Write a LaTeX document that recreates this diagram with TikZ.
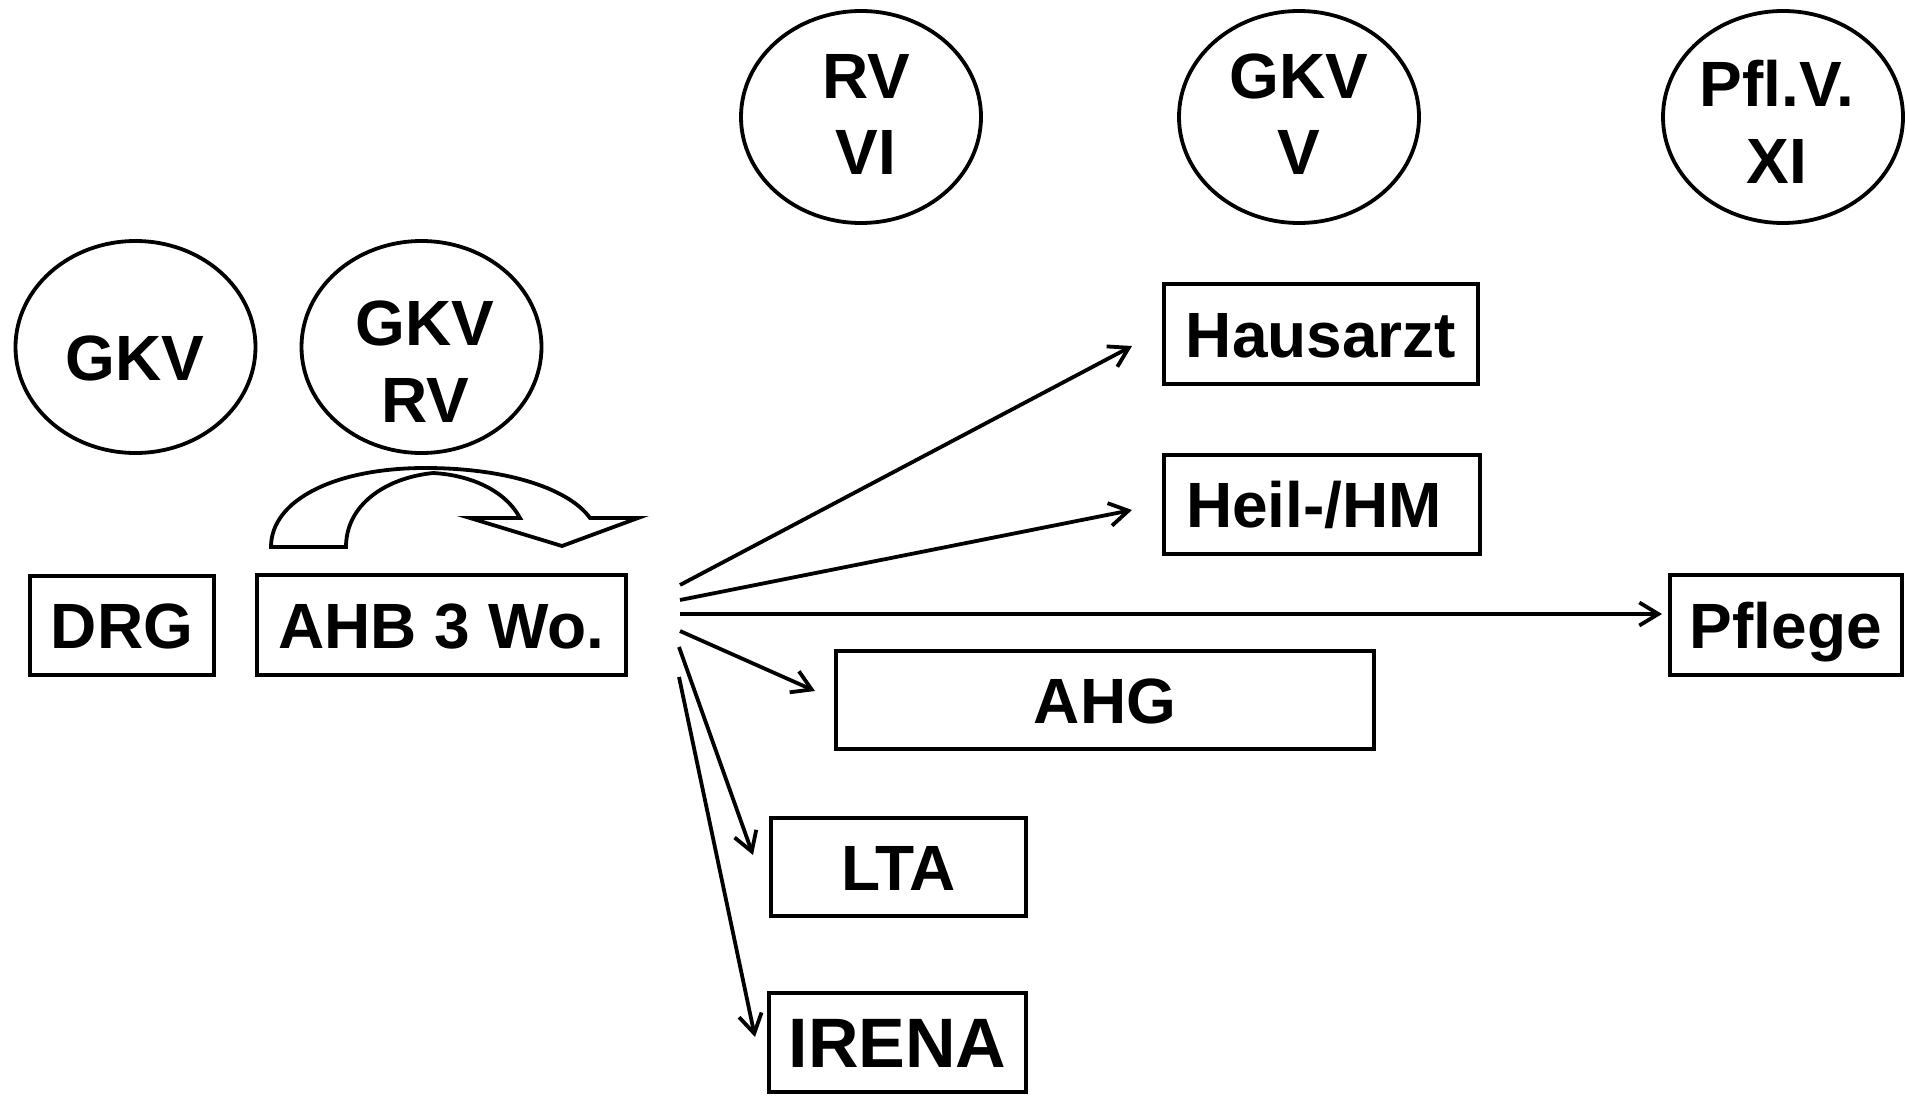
\documentclass[tikz,border=0pt]{standalone}
\usepackage{fontspec}
\setmainfont{Liberation Sans}
\usetikzlibrary{arrows.meta,shapes.geometric}
\begin{document}
\begin{tikzpicture}[x=0.5pt,y=-0.5pt,
  lw/.style={line width=1.9pt},
  bigfont/.style={font=\bfseries\fontsize{32}{38}\selectfont},
  box/.style={draw, lw, rectangle, inner sep=0pt, bigfont, text height=23pt, text depth=0pt},
  bub/.style={draw, lw, ellipse, inner sep=0pt, minimum width=120pt, minimum height=106pt},
  lbl/.style={anchor=base, inner sep=0pt, bigfont},
  arr/.style={lw, -{Straight Barb[length=9.5pt,width=11.5pt]}}
]
\useasboundingbox (0,0) rectangle (1906,1097);

% ellipses
\node[bub] (e1) at (135.5,347) {};
\node[bub] (e2) at (421.5,347) {};
\node[bub] (e3) at (861,117) {};
\node[bub] (e4) at (1299,117) {};
\node[bub] (e5) at (1783,117) {};

\node[lbl] (e1a) at (135,380) {GKV};
\node[lbl] (e2a) at (425,345) {GKV};
\node[lbl] (e2b) at (425,422) {RV};
\node[lbl] (e3a) at (866,99) {RV};
\node[lbl] (e3b) at (866,175) {VI};
\node[lbl] (e4a) at (1299,99) {GKV};
\node[lbl] (e4b) at (1299,175) {V};
\node[lbl] (e5a) at (1777,107) {Pfl.V.};
\node[lbl] (e5b) at (1777,184) {XI};

% boxes
\node[box, minimum width=92pt, minimum height=49.5pt] (drg) at (122,625.5) {DRG};
\node[box, minimum width=184.5pt, minimum height=50pt] (ahb) at (441.5,625) {AHB 3 Wo.};
\node[box, minimum width=157pt, minimum height=50pt] (haus) at (1321,334) {Hausarzt};
\node[box, minimum width=158pt, minimum height=49.5pt] (heil) at (1322,504.5) {\hspace*{-8pt}Heil-/HM};
\node[box, minimum width=116pt, minimum height=50pt] (pfl) at (1786,625) {Pflege};
\node[box, minimum width=269pt, minimum height=49pt] (ahg) at (1105,700) {AHG};
\node[box, minimum width=127.5pt, minimum height=49pt] (lta) at (898.5,867) {LTA};
\node[box, minimum width=128.5pt, minimum height=49.5pt, font=\bfseries\fontsize{35}{40}\selectfont, text height=25pt] (irena) at (897.5,1042.5) {IRENA};

% curved arrow
\draw[lw, fill=white] (271,547) .. controls (271,500) and (335,468) .. (425,468)
  .. controls (510,468) and (570,490) .. (590,518)
  -- (638,518) -- (562,546) -- (470,518) -- (520,518)
  .. controls (505,490) and (470,475) .. (433,473)
  .. controls (385,478) and (346,505) .. (346,547) -- cycle;

% arrow start and end points
\coordinate (s1) at (680,585);  \coordinate (t1) at (1132,346);
\coordinate (s2) at (680,600);  \coordinate (t2) at (1132,510);
\coordinate (s3) at (680,614);  \coordinate (t3) at (1662,614);
\coordinate (s4) at (680,631);  \coordinate (t4) at (815,691);
\coordinate (s5) at (679,647);  \coordinate (t5) at (753,855);
\coordinate (s6) at (679,677);  \coordinate (t6) at (755,1037);

\draw[arr] (s1) -- (t1);
\draw[arr] (s2) -- (t2);
\draw[arr] (s3) -- (t3);
\draw[arr] (s4) -- (t4);
\draw[arr] (s5) -- (t5);
\draw[arr] (s6) -- (t6);
\end{tikzpicture}
\end{document}
